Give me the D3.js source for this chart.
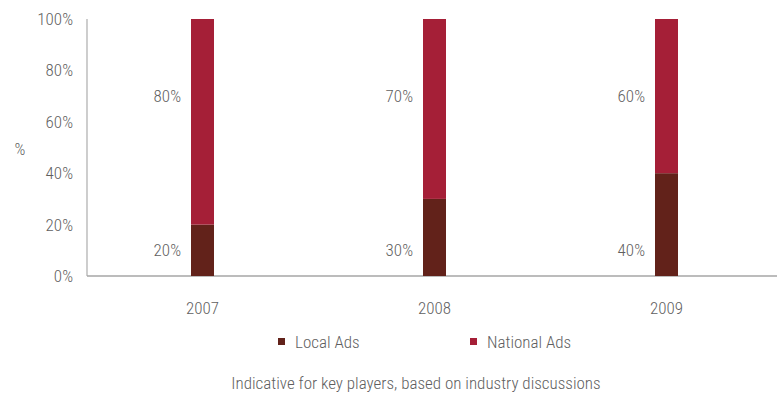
<!DOCTYPE html>
<html><head><meta charset="utf-8">
<script src="https://cdn.jsdelivr.net/npm/d3@7"></script>
<style>
body{margin:0;background:#fff;}
text{font-family:"Roboto Condensed","Liberation Sans Narrow","Roboto",sans-serif;fill:#5f5f5f;font-weight:300;}
</style></head>
<body><svg id="c" width="778" height="394"></svg>
<script>
const years = ["2007","2008","2009"];
const localAds = [20,30,40];
const nationalAds = [80,70,60];
const yTicks = [0,20,40,60,80,100];
const seriesNames = ["Local Ads","National Ads"];
const colors = ["#62221a","#a51f37"];
const labelLevels = [10,70];

const svg = d3.select("#c");
const W = 778, H = 394;
const x = d3.scaleBand().domain(years).range([86.5, 782.5]);
const y = d3.scaleLinear().domain([0,100]).range([276, 19]);
const bw = 23;
const fs = "17px";

svg.append("line").attr("x1",87).attr("x2",87).attr("y1",y(100)).attr("y2",y(0)).attr("stroke","#b3b3b3").attr("stroke-width",1.3);
svg.append("line").attr("x1",87).attr("x2",777).attr("y1",y(0)).attr("y2",y(0)).attr("stroke","#a6a6a6").attr("stroke-width",1.3);

svg.selectAll(".yt").data(yTicks).enter().append("text")
  .attr("x",73).attr("y",d=>y(d)).attr("dy","0.35em").attr("text-anchor","end")
  .style("font-size",fs).text(d=>d+"%");
svg.append("text").attr("x",20).attr("y",149).attr("dy","0.35em").attr("text-anchor","middle").style("font-size",fs).text("%");

const stacks = [localAds, nationalAds];
years.forEach((yr,i)=>{
  let base = 0;
  stacks.forEach((s,k)=>{
    const v = s[i];
    const cx = x(yr) + x.bandwidth()/2;
    svg.append("rect").attr("x",cx - bw/2).attr("width",bw)
      .attr("y",y(base+v)).attr("height",y(base)-y(base+v)).attr("fill",colors[k]);
    svg.append("text").attr("x",cx - bw/2 - 10).attr("y",y(labelLevels[k])).attr("dy","0.35em")
      .attr("text-anchor","end").style("font-size",fs).text(v+"%");
    base += v;
  });
});

svg.selectAll(".xt").data(years).enter().append("text")
  .attr("x",d=>x(d)+x.bandwidth()/2).attr("y",308).attr("dy","0.35em").attr("text-anchor","middle")
  .style("font-size",fs).text(d=>d);

const legX = [278, 470];
seriesNames.forEach((n,k)=>{
  svg.append("rect").attr("x",legX[k]).attr("y",338).attr("width",7).attr("height",7).attr("fill",colors[k]);
  svg.append("text").attr("x",legX[k]+17).attr("y",342).attr("dy","0.35em").style("font-size",fs).text(n);
});

svg.append("text").attr("x",416).attr("y",383).attr("dy","0.35em").attr("text-anchor","middle")
  .style("font-size",fs).text("Indicative for key players, based on industry discussions");
</script></body></html>
